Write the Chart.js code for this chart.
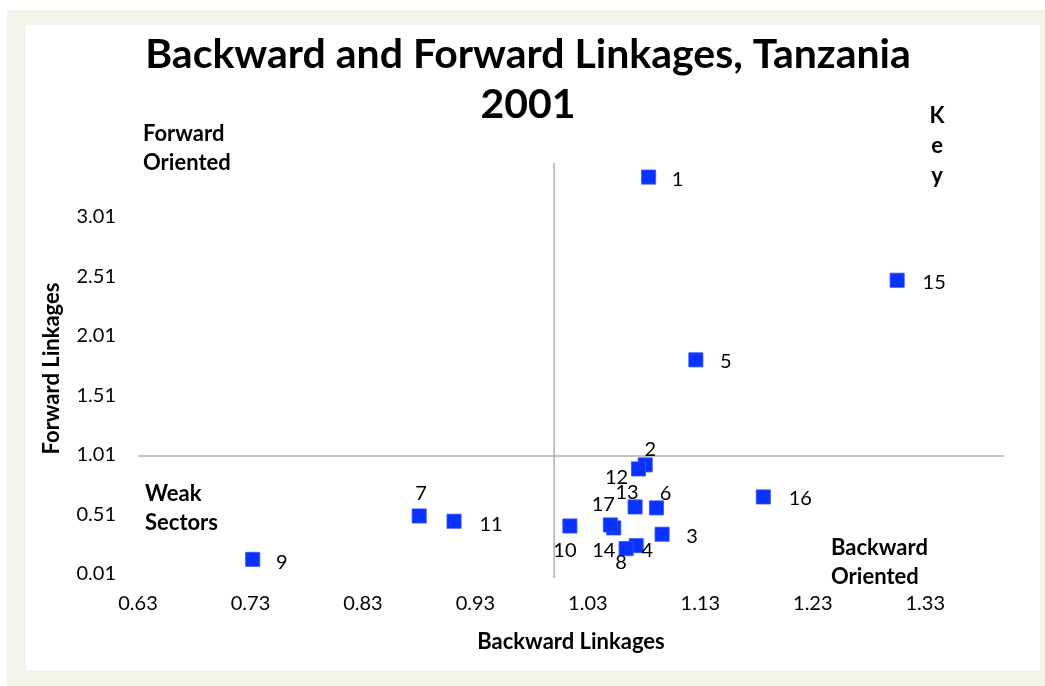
<!DOCTYPE html>
<html>
<head>
<meta charset="utf-8">
<title>Backward and Forward Linkages, Tanzania 2001</title>
<script src="https://cdn.jsdelivr.net/npm/chart.js@4.4.0/dist/chart.umd.min.js"></script>
<style>
    html, body { margin: 0; padding: 0; background: #ffffff; }
    #wrap { width: 1045px; height: 686px; position: relative; }
</style>
</head>
<body>
<div id="wrap"><canvas id="linkagesChart"></canvas></div>
<script>
// sector numbers and their linkage indices
var sectors = ['1', '2', '3', '4', '5', '6', '7', '8', '9', '10', '11', '12', '13', '14', '15', '16', '17'];
var backwardLinkages = [1.084, 1.081, 1.096, 1.073, 1.126, 1.091, 0.880, 1.064, 0.732, 1.014, 0.911, 1.075, 1.072, 1.053, 1.305, 1.186, 1.050];
var forwardLinkages = [3.342, 0.926, 0.344, 0.248, 1.808, 0.565, 0.497, 0.223, 0.133, 0.413, 0.453, 0.892, 0.573, 0.397, 2.476, 0.657, 0.422];

var xTickValues = [0.63, 0.73, 0.83, 0.93, 1.03, 1.13, 1.23, 1.33];
var yTickValues = [0.01, 0.51, 1.01, 1.51, 2.01, 2.51, 3.01];

// where each sector number sits relative to its marker (dx, dy in px)
var labelOffsets = [
    [29, 2], [5, -15], [30, 2], [11, 5], [30, 2], [9, -14], [2, -22], [-5, 14], [29, 3],
    [-5, 25], [37, 3], [-22, 9], [-8, -14], [-10, 23], [37, 2], [37, 2], [-7, -20]
];

var points = backwardLinkages.map(function (b, i) {
    return { x: b, y: forwardLinkages[i] };
});

var fontFamily = 'Lato, "Liberation Sans", sans-serif';

// light green frame with white card
var framePlugin = {
    id: 'frame',
    beforeDraw: function (chart) {
        var ctx = chart.ctx;
        ctx.save();
        ctx.fillStyle = '#f1f4e9';
        ctx.fillRect(7, 10, 1038, 676);
        ctx.fillStyle = '#ffffff';
        ctx.fillRect(26, 25, 1014, 645);
        ctx.restore();
    }
};

// the quadrant lines at 1.0 on both axes
var crossPlugin = {
    id: 'cross',
    beforeDatasetsDraw: function (chart) {
        var ctx = chart.ctx, area = chart.chartArea;
        var xs = chart.scales.x, ys = chart.scales.y;
        var px = xs.getPixelForValue(1.0);
        var py = ys.getPixelForValue(1.0);
        ctx.save();
        ctx.strokeStyle = '#b0b0b0';
        ctx.lineWidth = 1.5;
        ctx.beginPath();
        ctx.moveTo(px, area.top);
        ctx.lineTo(px, area.bottom + 4);
        ctx.moveTo(area.left, py);
        ctx.lineTo(area.right, py);
        ctx.stroke();
        ctx.restore();
    }
};

// sector numbers next to each marker
var sectorLabelPlugin = {
    id: 'sectorLabels',
    afterDatasetsDraw: function (chart) {
        var ctx = chart.ctx;
        var meta = chart.getDatasetMeta(0);
        ctx.save();
        ctx.font = '20px ' + fontFamily;
        ctx.fillStyle = '#000000';
        ctx.textAlign = 'center';
        ctx.textBaseline = 'middle';
        meta.data.forEach(function (pt, i) {
            var off = labelOffsets[i];
            ctx.fillText(sectors[i], pt.x + off[0], pt.y + off[1]);
        });
        ctx.restore();
    }
};

// the text boxes in the corners and the "Key" column
var notesPlugin = {
    id: 'notes',
    afterDraw: function (chart) {
        var ctx = chart.ctx;
        ctx.save();
        ctx.font = 'bold 22px ' + fontFamily;
        ctx.fillStyle = '#000000';
        ctx.textBaseline = 'middle';
        ctx.textAlign = 'left';
        ctx.fillText('Forward', 143, 134);
        ctx.fillText('Oriented', 143, 163);
        ctx.fillText('Weak', 145, 494);
        ctx.fillText('Sectors', 145, 523);
        ctx.fillText('Backward', 831, 548);
        ctx.fillText('Oriented', 831, 577);
        ctx.textAlign = 'center';
        ctx.fillText('K', 937, 116);
        ctx.fillText('e', 937, 146);
        ctx.fillText('y', 937, 176);
        ctx.restore();
    }
};

var ctx = document.getElementById('linkagesChart').getContext('2d');
var linkagesChart = new Chart(ctx, {
    type: 'scatter',
    data: {
        datasets: [{
            label: 'Sectors',
            data: points,
            pointStyle: 'rect',
            pointRadius: 10,
            pointHoverRadius: 10,
            backgroundColor: '#0a32ff',
            borderColor: '#3355ff',
            borderWidth: 0.8
        }]
    },
    options: {
        responsive: true,
        maintainAspectRatio: false,
        animation: false,
        layout: {
            padding: { left: 52, right: 41, top: 25, bottom: 16 }
        },
        plugins: {
            legend: { display: false },
            tooltip: { enabled: false },
            title: {
                display: true,
                text: ['Backward and Forward Linkages, Tanzania', '2001'],
                color: '#000000',
                font: { family: fontFamily, size: 41, weight: 'bold', lineHeight: 1.22 },
                padding: { top: 5, bottom: 33 }
            }
        },
        scales: {
            x: {
                type: 'linear',
                min: 0.63,
                max: 1.40,
                afterBuildTicks: function (scale) {
                    scale.ticks = xTickValues.map(function (v) { return { value: v }; });
                },
                afterFit: function (scale) { scale.height = 96; },
                grid: { display: false, drawTicks: false },
                border: { display: false },
                ticks: {
                    padding: 18,
                    color: '#000000',
                    font: { family: fontFamily, size: 20 },
                    callback: function (v) { return v.toFixed(2); }
                },
                title: {
                    display: true,
                    text: 'Backward Linkages',
                    color: '#000000',
                    font: { family: fontFamily, size: 22, weight: 'bold' },
                    padding: { top: 0, bottom: 15 }
                }
            },
            y: {
                type: 'linear',
                min: 0.01,
                max: 3.46,
                afterBuildTicks: function (scale) {
                    scale.ticks = yTickValues.map(function (v) { return { value: v }; });
                },
                afterFit: function (scale) { scale.width = 86; },
                grid: { display: false, drawTicks: false },
                border: { display: false },
                ticks: {
                    padding: 22,
                    color: '#000000',
                    font: { family: fontFamily, size: 20 },
                    callback: function (v) { return v.toFixed(2); }
                },
                title: {
                    display: true,
                    text: 'Forward Linkages',
                    color: '#000000',
                    font: { family: fontFamily, size: 22, weight: 'bold' },
                    padding: { top: -13, bottom: 0 }
                }
            }
        }
    },
    plugins: [framePlugin, crossPlugin, sectorLabelPlugin, notesPlugin]
});
</script>
</body>
</html>
